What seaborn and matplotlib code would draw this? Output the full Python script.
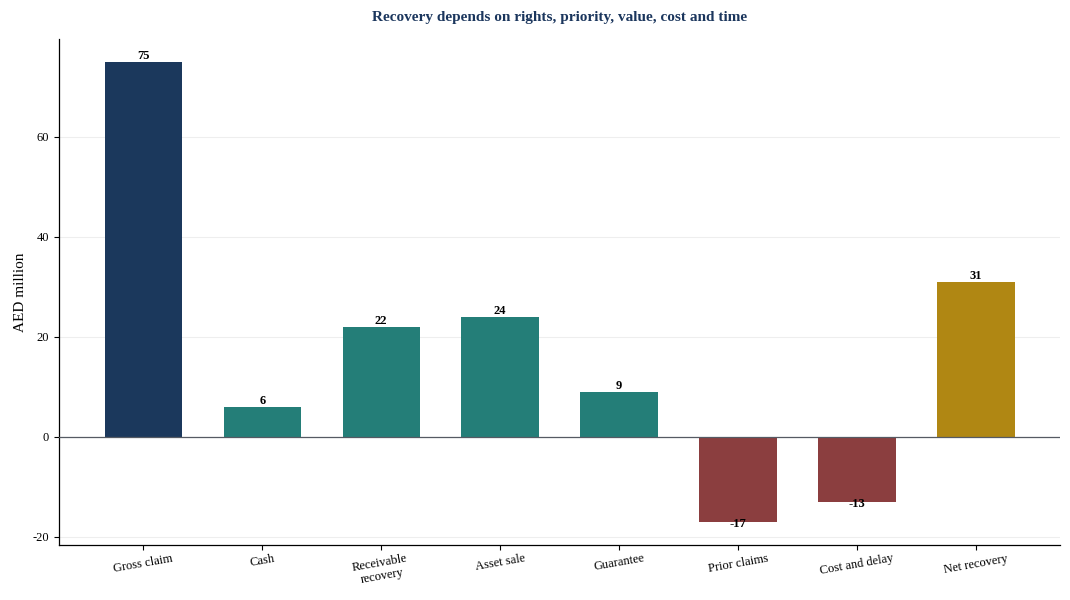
import numpy as np
import pandas as pd
import matplotlib
matplotlib.use("Agg")
import matplotlib.pyplot as plt
import seaborn as sns

# Recovery bridge data (AED million)
categories = ["Gross claim", "Cash", "Receivable\nrecovery", "Asset sale",
              "Guarantee", "Prior claims", "Cost and delay", "Net recovery"]
values = [75, 6, 22, 24, 9, -17, -13, 31]
kinds = ["claim", "source", "source", "source", "source", "deduct", "deduct", "net"]

kind_colors = {"claim": "#1b385c", "source": "#247e78",
               "deduct": "#8b3e3f", "net": "#b08713"}

df = pd.DataFrame({"category": categories, "value": values, "kind": kinds})
palette = {c: kind_colors[k] for c, k in zip(categories, kinds)}

sns.set_style("white", {"xtick.bottom": True, "ytick.left": True,
                        "text.color": "black", "axes.labelcolor": "black",
                        "xtick.color": "black", "ytick.color": "black"})
plt.rcParams["font.family"] = ["Liberation Serif", "DejaVu Serif"]
plt.rcParams["axes.unicode_minus"] = False

fig, ax = plt.subplots(figsize=(10.7, 6), dpi=100)
sns.barplot(data=df, x="category", y="value", hue="category", palette=palette,
            width=0.65, legend=False, ax=ax, saturation=1, linewidth=0)

for cont in ax.containers:
    v = cont.datavalues[0]
    ax.bar_label(cont, fmt="%.0f", padding=0 if v >= 0 else -3,
                 fontsize=9, fontweight="bold")

ax.axhline(0, color="#555a63", linewidth=0.9, zorder=3)
ax.yaxis.grid(True, color="#eeeeee", linewidth=0.8)
ax.set_axisbelow(True)

ax.set_title("Recovery depends on rights, priority, value, cost and time",
             fontsize=11, fontweight="bold", color="#1b365d", pad=13)
ax.set_xlabel("")
ax.set_ylabel("AED million", fontsize=11)
ax.set_yticks([-20, 0, 20, 40, 60])
ax.set_xlim(-0.71, len(categories) - 1 + 0.71)
ax.tick_params(axis="both", labelsize=9, length=3.5, width=0.8)
ax.tick_params(axis="x", rotation=10, pad=2)
sns.despine(ax=ax)
for s in ["left", "bottom"]:
    ax.spines[s].set_color("black")
    ax.spines[s].set_linewidth(0.9)

fig.subplots_adjust(left=0.055, right=0.991, top=0.935, bottom=0.092)
plt.savefig("out.png", dpi=100)
